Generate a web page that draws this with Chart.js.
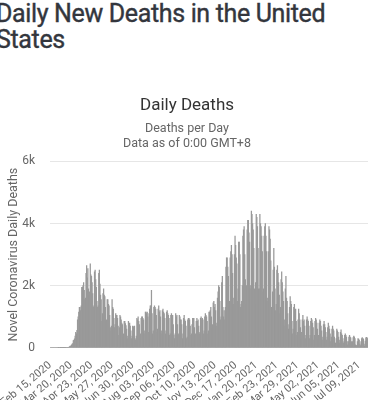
<!DOCTYPE html>
<html lang="en">
<head>
<meta charset="UTF-8">
<script src="https://cdn.jsdelivr.net/npm/chart.js"></script>
<title>Daily New Deaths in the United States</title>
<style>
    html, body {
        margin: 0;
        padding: 0;
        width: 384px;
        height: 400px;
        overflow: hidden;
        background: #fff;
        font-family: Roboto, "Open Sans", sans-serif;
    }
    h1 {
        position: absolute;
        left: -4px;
        top: 1px;
        margin: 0;
        width: 390px;
        font-size: 25px;
        font-weight: 400;
        letter-spacing: -0.35px;
        -webkit-text-stroke: 0.4px #33363d;
        line-height: 26px;
        color: #33363d;
    }
    .chart-box {
        position: absolute;
        left: 0;
        top: 88px;
        width: 368px;
        height: 326px;
    }
</style>
</head>
<body>
<h1>Daily New Deaths in the United States</h1>
<div class="chart-box">
    <canvas id="deathsChart"></canvas>
</div>
<script>
// first day of the series, one bar per day after that
const startDate = '2020-02-15';
const labelEvery = 34;

// daily deaths, one row per week (Sat .. Fri)
const deathsWeekly = [
    [0, 0, 0, 0, 0, 0, 0],
    [0, 0, 0, 0, 0, 0, 1],
    [1, 0, 4, 1, 3, 2, 1],
    [3, 4, 4, 5, 8, 11, 12],
    [10, 12, 18, 23, 40, 55, 60],
    [90, 120, 140, 230, 250, 290, 380],
    [500, 450, 560, 900, 1000, 1150, 1300],
    [1300, 1200, 1350, 1950, 1950, 2000, 2100],
    [1850, 1550, 1600, 2400, 2650, 2250, 2550],
    [1900, 1700, 1800, 2700, 2350, 2300, 2100],
    [1750, 1300, 1350, 2450, 2500, 2200, 1950],
    [1500, 1300, 1350, 2400, 2500, 2050, 1700],
    [1550, 850, 1100, 1750, 1900, 1700, 1650],
    [1300, 850, 900, 1550, 1550, 1400, 1350],
    [1050, 650, 550, 700, 1550, 1300, 1250],
    [950, 650, 750, 1100, 1050, 1050, 950],
    [700, 400, 650, 1050, 1000, 900, 800],
    [750, 350, 450, 850, 850, 780, 720],
    [600, 300, 380, 850, 750, 800, 700],
    [550, 300, 380, 700, 680, 650, 700],
    [300, 250, 380, 950, 900, 1000, 850],
    [750, 400, 450, 950, 1000, 1000, 950],
    [900, 450, 550, 1150, 1150, 1100, 1150],
    [1000, 500, 1100, 1250, 1350, 1350, 1850],
    [1100, 450, 550, 1300, 1350, 1300, 1250],
    [1050, 500, 600, 1250, 1350, 1150, 1200],
    [1000, 450, 550, 1200, 1250, 1150, 1100],
    [950, 450, 550, 1150, 1200, 1100, 1050],
    [950, 400, 450, 1050, 1100, 1000, 1050],
    [750, 400, 300, 450, 1100, 1000, 1050],
    [750, 400, 450, 1050, 1000, 900, 900],
    [750, 300, 450, 950, 1050, 900, 850],
    [700, 300, 350, 900, 950, 950, 900],
    [700, 400, 450, 750, 950, 950, 950],
    [650, 400, 450, 850, 950, 850, 900],
    [700, 450, 500, 950, 1000, 900, 950],
    [900, 450, 550, 1000, 1100, 1050, 1000],
    [850, 450, 550, 1150, 1150, 1200, 1300],
    [1000, 600, 750, 1450, 1500, 1300, 1400],
    [1200, 700, 800, 1600, 1800, 2000, 1950],
    [1500, 900, 1000, 2100, 2300, 1300, 1000],
    [1200, 900, 1300, 2600, 2900, 2900, 2600],
    [2300, 1300, 1500, 2900, 3100, 3300, 3000],
    [2400, 1400, 1600, 3000, 3600, 3300, 2900],
    [2700, 1500, 1900, 3400, 3400, 3000, 1300],
    [1400, 1500, 2000, 3600, 3800, 3900, 3000],
    [2200, 1400, 2000, 3800, 4100, 4100, 3700],
    [3400, 1900, 2000, 4400, 4300, 4000, 3800],
    [3200, 1900, 1400, 2100, 4300, 4200, 3900],
    [3200, 1900, 1900, 4300, 4000, 3900, 3600],
    [3100, 1800, 1900, 3600, 3900, 4000, 3600],
    [3100, 1500, 1600, 3100, 3900, 3800, 3500],
    [2800, 1300, 1100, 1800, 2500, 3200, 2600],
    [1900, 1200, 1400, 2500, 2650, 2400, 2100],
    [1700, 1100, 1300, 2200, 2450, 2100, 1800],
    [1500, 700, 900, 1900, 2300, 1600, 1500],
    [1100, 600, 750, 1300, 1650, 1500, 1400],
    [850, 450, 600, 1300, 1400, 1200, 1250],
    [850, 400, 500, 900, 1250, 1100, 900],
    [650, 300, 500, 900, 1050, 850, 900],
    [700, 300, 400, 900, 1000, 900, 850],
    [700, 300, 400, 850, 950, 900, 800],
    [650, 250, 400, 850, 950, 900, 800],
    [600, 250, 400, 800, 900, 850, 700],
    [550, 250, 350, 750, 850, 750, 650],
    [500, 250, 350, 650, 800, 700, 600],
    [450, 200, 350, 600, 700, 600, 550],
    [350, 150, 150, 300, 600, 550, 500],
    [350, 150, 250, 500, 580, 450, 400],
    [300, 150, 200, 400, 450, 400, 350],
    [200, 100, 200, 350, 400, 350, 320],
    [200, 80, 200, 330, 380, 350, 300],
    [100, 60, 80, 200, 300, 280, 250],
    [120, 70, 200, 300, 330, 300, 280],
    [120, 60, 220, 320, 340, 320, 300]
];

const yTicks = [0, 2000, 4000, 6000];
const months = ['Jan', 'Feb', 'Mar', 'Apr', 'May', 'Jun', 'Jul', 'Aug', 'Sep', 'Oct', 'Nov', 'Dec'];

const deaths = deathsWeekly.flat();
const labels = [];
const d0 = new Date(startDate + 'T00:00:00Z');
for (let i = 0; i < deaths.length; i++) {
    const d = new Date(d0.getTime() + i * 86400000);
    const day = String(d.getUTCDate()).padStart(2, '0');
    labels.push(months[d.getUTCMonth()] + ' ' + day + ', ' + d.getUTCFullYear());
}

const grey = '#666';

const ctx = document.getElementById('deathsChart').getContext('2d');
const myChart = new Chart(ctx, {
    type: 'bar',
    data: {
        labels: labels,
        datasets: [{
            label: 'Daily Deaths',
            data: deaths,
            backgroundColor: '#999',
            borderWidth: 0,
            barPercentage: 1,
            categoryPercentage: 1
        }]
    },
    options: {
        responsive: true,
        maintainAspectRatio: false,
        animation: false,
        layout: { padding: { left: 6, right: 0, top: 0, bottom: 0 } },
        plugins: {
            legend: { display: false },
            tooltip: { enabled: false },
            title: {
                display: true,
                text: 'Daily Deaths',
                color: '#333',
                font: { family: 'Roboto', size: 17, weight: 'normal' },
                padding: { top: 8, bottom: 5 }
            },
            subtitle: {
                display: true,
                text: ['Deaths per Day', 'Data as of 0:00 GMT+8'],
                color: grey,
                font: { family: 'Roboto', size: 12.5 },
                padding: { bottom: 10 }
            }
        },
        scales: {
            x: {
                grid: { display: false },
                border: { color: '#d6d6d6' },
                // rotated labels may run off the left edge, as in the original
                afterFit: function (axis) {
                    axis.paddingLeft = 0;
                    axis.paddingRight = 0;
                },
                ticks: {
                    autoSkip: false,
                    minRotation: 40,
                    maxRotation: 40,
                    color: grey,
                    font: { family: 'Roboto', size: 11 },
                    callback: function (val, i) {
                        return i % labelEvery === 0 ? labels[i] : null;
                    }
                }
            },
            y: {
                min: 0,
                max: 6000,
                afterBuildTicks: function (axis) {
                    axis.ticks = yTicks.map(v => ({ value: v }));
                },
                afterFit: function (axis) {
                    axis.width = 44;
                },
                grid: { color: '#e6e6e6', drawTicks: false },
                border: { display: false },
                ticks: {
                    padding: 15,
                    color: grey,
                    font: { family: 'Roboto', size: 12 },
                    callback: v => v === 0 ? '0' : (v / 1000) + 'k'
                },
                title: {
                    display: true,
                    text: 'Novel Coronavirus Daily Deaths',
                    color: grey,
                    font: { family: 'Roboto', size: 12.5 },
                    padding: { top: 0, bottom: 4 }
                }
            }
        }
    }
});
</script>
</body>
</html>
